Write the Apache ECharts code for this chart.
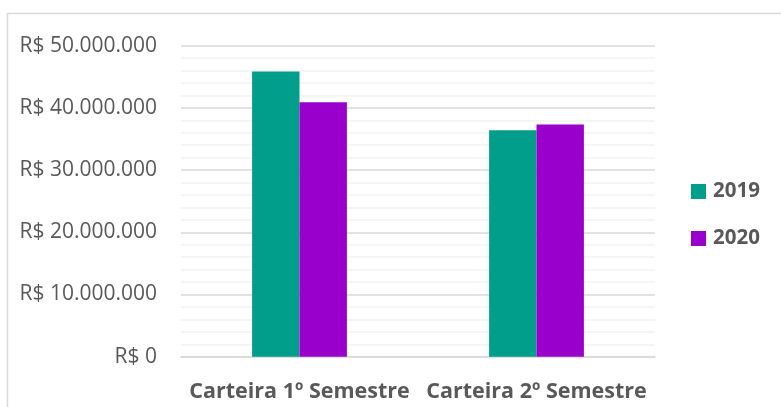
<!DOCTYPE html>
<html>
<head>
<meta charset="utf-8">
<script src="https://cdn.jsdelivr.net/npm/echarts@6/dist/echarts.min.js"></script>
<style>
  html, body { margin: 0; padding: 0; background: #ffffff; }
  #chart { width: 781px; height: 407px; }
</style>
</head>
<body>
<div id="chart"></div>
<script>
// Carteira por semestre, 2019 x 2020 (R$)
const categories = ['Carteira 1º Semestre', 'Carteira 2º Semestre'];
const seriesNames = ['2019', '2020'];
const values2019 = [45870000, 36390000];
const values2020 = [40890000, 37350000];
const colors = ['#009E8B', '#9900CC'];

const FONT = '"Open Sans", sans-serif';
const TEXT = '#595959';

function brl(v) {
  const s = Math.round(v).toString().replace(/\B(?=(\d{3})+(?!\d))/g, '.');
  return 'R$ ' + s;
}

const chart = echarts.init(document.getElementById('chart'), null, { renderer: 'canvas' });

chart.setOption({
  animation: false,
  backgroundColor: '#ffffff',
  textStyle: { fontFamily: FONT },
  graphic: [{
    type: 'rect',
    shape: { x: 7.5, y: 13.5, width: 800, height: 420 },
    style: { fill: 'none', stroke: '#d9d9d9', lineWidth: 1.5 },
    silent: true
  }],
  grid: { left: 181, right: 126, top: 45.7, bottom: 50.3, containLabel: false },
  legend: {
    orient: 'vertical',
    left: 686,
    top: 176,
    itemWidth: 15,
    itemHeight: 15,
    itemGap: 26,
    icon: 'rect',
    data: seriesNames,
    textStyle: { fontFamily: FONT, fontSize: 20.5, fontWeight: 'bold', color: TEXT, padding: [0, 0, 0, 2] }
  },
  xAxis: {
    type: 'category',
    data: categories,
    axisLine: { show: true, lineStyle: { color: '#d9d9d9', width: 1.5 } },
    axisTick: { show: false },
    axisLabel: { fontFamily: FONT, fontSize: 21.5, fontWeight: 'bold', color: TEXT, margin: 24, interval: 0 }
  },
  yAxis: {
    type: 'value',
    min: 0,
    max: 50000000,
    interval: 10000000,
    axisLine: { show: false },
    axisTick: { show: false },
    axisLabel: { fontFamily: FONT, fontSize: 21, color: TEXT, margin: 24, formatter: brl },
    splitLine: { show: true, lineStyle: { color: '#d9d9d9', width: 1.5 } },
    minorTick: { show: false, splitNumber: 5 },
    minorSplitLine: { show: true, lineStyle: { color: '#f2f2f2', width: 1.5 } }
  },
  series: [
    {
      name: seriesNames[0],
      type: 'bar',
      data: values2019,
      itemStyle: { color: colors[0] },
      barGap: '0%',
      barCategoryGap: '60%'
    },
    {
      name: seriesNames[1],
      type: 'bar',
      data: values2020,
      itemStyle: { color: colors[1] },
      barGap: '0%',
      barCategoryGap: '60%'
    }
  ]
});
</script>
</body>
</html>
